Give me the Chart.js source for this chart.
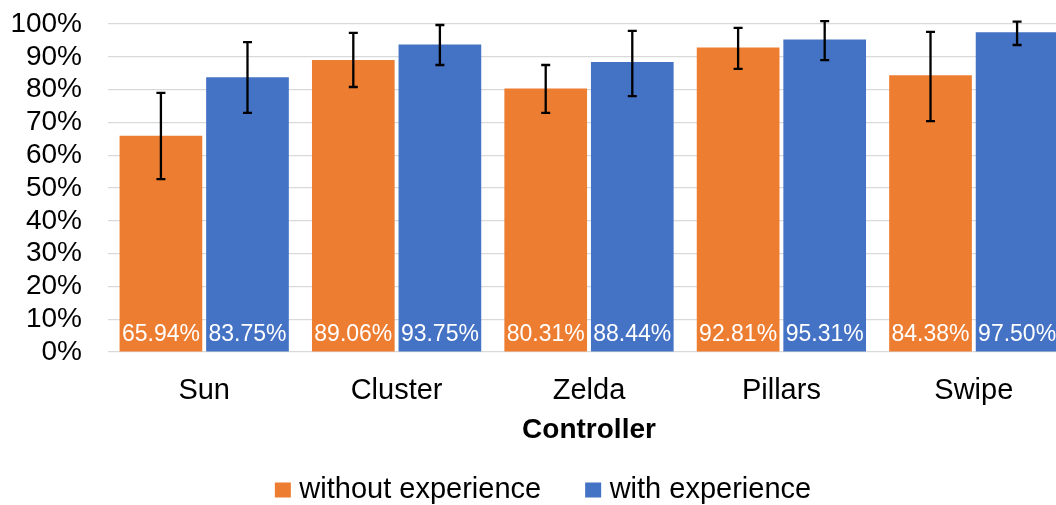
<!DOCTYPE html>
<html>
<head>
<meta charset="utf-8">
<script src="https://cdn.jsdelivr.net/npm/chart.js@4/dist/chart.umd.min.js"></script>
<style>
  html, body { margin: 0; padding: 0; overflow: hidden; background: #fff; }
  #wrap { width: 1091px; height: 505px; }
</style>
</head>
<body>
<div id="wrap"><canvas id="chart"></canvas></div>
<script>
const categories = ["Sun", "Cluster", "Zelda", "Pillars", "Swipe"];
const withoutExp = [65.94, 89.06, 80.31, 92.81, 84.38];
const withExp = [83.75, 93.75, 88.44, 95.31, 97.50];
// error bar ends
const withoutLow = [52.7, 80.8, 72.9, 86.3, 70.4];
const withoutHigh = [79.0, 97.3, 87.5, 98.8, 97.6];
const withLow = [72.9, 87.5, 78.0, 89.0, 93.6];
const withHigh = [94.5, 99.7, 97.9, 100.9, 100.7];
const yTicks = [0, 10, 20, 30, 40, 50, 60, 70, 80, 90, 100];

const FONT = "'Liberation Sans', Arial, sans-serif";

const errorBars = {
  id: "errorBars",
  afterDatasetsDraw(chart) {
    const ctx = chart.ctx;
    const y = chart.scales.y;
    const ranges = [[withoutLow, withoutHigh], [withLow, withHigh]];
    chart.data.datasets.forEach((ds, di) => {
      const meta = chart.getDatasetMeta(di);
      meta.data.forEach((bar, i) => {
        // value label at the foot of the bar
        ctx.save();
        ctx.fillStyle = "#ffffff";
        ctx.font = "23px " + FONT;
        ctx.textAlign = "center";
        ctx.textBaseline = "middle";
        ctx.fillText(ds.data[i].toFixed(2) + "%", bar.x, bar.base - 17);
        ctx.restore();

        const lo = y.getPixelForValue(ranges[di][0][i]);
        const hi = y.getPixelForValue(ranges[di][1][i]);
        ctx.save();
        ctx.strokeStyle = "#000";
        ctx.lineWidth = 2.3;
        ctx.beginPath();
        ctx.moveTo(bar.x, lo); ctx.lineTo(bar.x, hi);
        ctx.moveTo(bar.x - 4.5, lo); ctx.lineTo(bar.x + 4.5, lo);
        ctx.moveTo(bar.x - 4.5, hi); ctx.lineTo(bar.x + 4.5, hi);
        ctx.stroke();
        ctx.restore();
      });
    });
  }
};

// legend drawn by hand so the box/text spacing matches
const bottomLegend = {
  id: "bottomLegend",
  afterDraw(chart) {
    const ctx = chart.ctx;
    const ds = chart.data.datasets;
    const box = 16, gapText = 8.5, gapItem = 44, cy = 490, cx = 543;
    ctx.save();
    ctx.font = "29px " + FONT;
    ctx.textBaseline = "middle";
    const widths = ds.map(d => ctx.measureText(d.label).width);
    const total = widths.reduce((a, w) => a + box + gapText + w, 0) + gapItem * (ds.length - 1);
    let x = cx - total / 2;
    ds.forEach((d, i) => {
      ctx.fillStyle = d.backgroundColor;
      ctx.fillRect(x, cy - 7.5, box, 15);
      ctx.fillStyle = "#000";
      ctx.fillText(d.label, x + box + gapText, cy);
      x += box + gapText + widths[i] + gapItem;
    });
    ctx.restore();
  }
};

new Chart(document.getElementById("chart"), {
  type: "bar",
  data: {
    labels: categories,
    datasets: [
      { label: "without experience", data: withoutExp, backgroundColor: "#ED7D31" },
      { label: "with experience", data: withExp, backgroundColor: "#4472C4" }
    ]
  },
  options: {
    responsive: true,
    maintainAspectRatio: false,
    animation: false,
    categoryPercentage: 0.9,
    barPercentage: 0.955,
    layout: { padding: { left: 10, right: 21, top: 24, bottom: 60 } },
    scales: {
      x: {
        afterFit: (s) => { s.height = 93; s.paddingTop = 0; s.paddingBottom = 0; },
        grid: { display: false, drawTicks: false },
        border: { display: false },
        ticks: { color: "#000", padding: 22, font: { family: FONT, size: 29 } },
        title: {
          display: true, text: "Controller", color: "#000",
          font: { family: FONT, size: 28, weight: "bold" },
          padding: { top: 0, bottom: -2 }
        }
      },
      y: {
        min: 0, max: 100,
        afterBuildTicks: (s) => { s.ticks = yTicks.map(v => ({ value: v })); },
        afterFit: (s) => { s.width = 98; s.paddingTop = 0; s.paddingBottom = 0; },
        grid: { color: "#d9d9d9", lineWidth: 1.2, drawTicks: false },
        border: { display: false },
        ticks: { autoSkip: false, color: "#000", padding: 26, font: { family: FONT, size: 28 }, callback: v => v + "%" }
      }
    },
    plugins: {
      legend: { display: false },
      tooltip: { enabled: false }
    }
  },
  plugins: [errorBars, bottomLegend]
});
</script>
</body>
</html>
